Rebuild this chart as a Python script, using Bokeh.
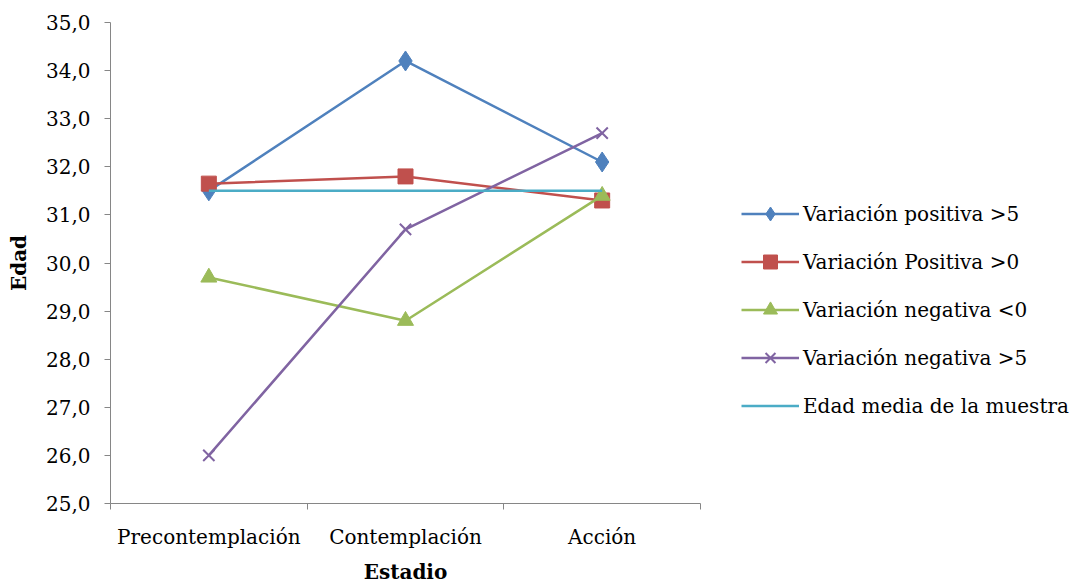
from bokeh.plotting import figure
from bokeh.models import Range1d, FixedTicker, CustomJSTickFormatter, Legend, LegendItem
from bokeh.embed import file_html
from bokeh.resources import INLINE

categories = ["Precontemplación", "Contemplación", "Acción"]
pos5 = [31.5, 34.2, 32.1]
pos0 = [31.65, 31.8, 31.3]
neg0 = [29.7, 28.8, 31.4]
neg5 = [26.0, 30.7, 32.7]
media = [31.5, 31.5, 31.5]
names = ["Variación positiva >5", "Variación Positiva >0", "Variación negativa <0",
         "Variación negativa >5", "Edad media de la muestra"]

FONT = "DejaVu Serif"
FS = "20px"

xs = [i + 0.5 for i in range(len(categories))]

p = figure(frame_width=590, frame_height=481, output_backend="svg", toolbar_location=None,
           x_range=Range1d(0, len(categories)), y_range=Range1d(25, 35),
           min_border_left=110, min_border_right=366, min_border_top=22, min_border_bottom=70)
p.outline_line_color = None
p.xgrid.visible = False
p.ygrid.visible = False

# y axis
p.yaxis.ticker = FixedTicker(ticks=list(range(25, 36)))
p.yaxis.formatter = CustomJSTickFormatter(code="return tick.toFixed(1).replace('.', ',');")
p.yaxis.axis_label = "Edad"
p.yaxis.major_tick_in = 0
p.yaxis.major_tick_out = 6
p.yaxis.minor_tick_line_color = None
p.yaxis.major_label_standoff = 14

# x axis
p.xaxis.ticker = FixedTicker(ticks=xs, minor_ticks=list(range(len(categories) + 1)))
p.xaxis.major_label_overrides = {x: c for x, c in zip(xs, categories)}
p.xaxis.axis_label = "Estadio"
p.xaxis.major_tick_in = 0
p.xaxis.major_tick_out = 0
p.xaxis.minor_tick_in = 0
p.xaxis.minor_tick_out = 6
p.xaxis.major_label_standoff = 15

for ax in (p.xaxis, p.yaxis):
    ax.axis_line_color = "#868686"
    ax.major_tick_line_color = "#868686"
    ax.major_label_text_font = FONT
    ax.major_label_text_font_size = FS
    ax.major_label_text_color = "#000000"
    ax.axis_label_text_font = FONT
    ax.axis_label_text_font_size = FS
    ax.axis_label_text_font_style = "bold"
    ax.axis_label_text_color = "#000000"
p.xaxis.minor_tick_line_color = "#868686"
p.yaxis.axis_label_standoff = 12
p.xaxis.axis_label_standoff = 8

colors = ["#4F81BD", "#C0504D", "#9BBB59", "#8064A2", "#4BACC6"]
series = [pos5, pos0, neg0, neg5, media]
markers = ["diamond", "square", "triangle", "x", None]
sizes = [20, 15, 16, 16, 0]

items = []
for vals, col, mk, sz, nm in zip(series, colors, markers, sizes, names):
    r1 = p.line(xs, vals, line_color=col, line_width=2.5)
    rs = [r1]
    if mk is not None:
        if mk == "x":
            r2 = p.scatter(xs, vals, marker=mk, size=sz, line_color=col, line_width=2)
        else:
            r2 = p.scatter(xs, vals, marker=mk, size=sz, fill_color=col, line_color=col)
        rs.append(r2)
    items.append(LegendItem(label=nm, renderers=rs))

legend = Legend(items=items, location=(41, 80), orientation="vertical",
                glyph_width=58, glyph_height=35, label_height=35, spacing=13,
                label_standoff=4, padding=0, margin=0,
                label_text_font=FONT, label_text_font_size=FS, label_text_color="#000000",
                border_line_color=None, background_fill_alpha=0)
p.add_layout(legend, "right")

open("out.html", "w").write(file_html(p, INLINE))
